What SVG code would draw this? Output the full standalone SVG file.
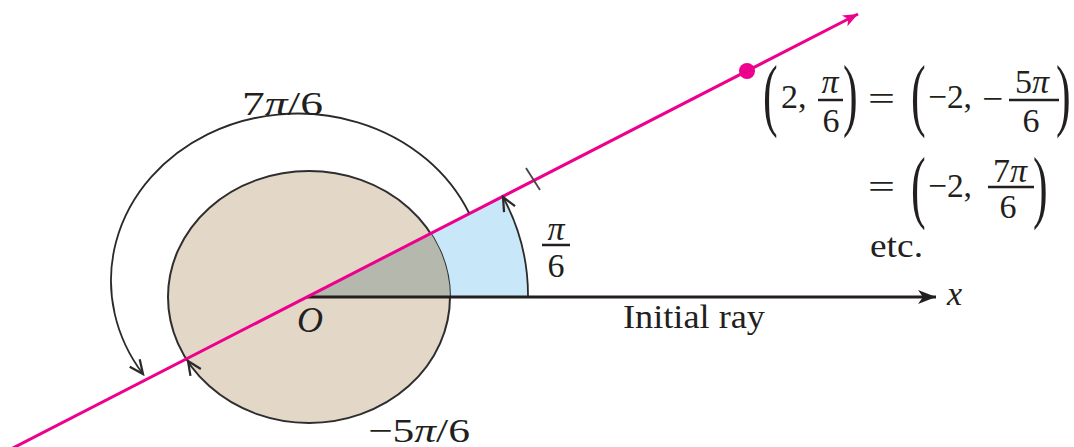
<svg xmlns="http://www.w3.org/2000/svg" width="1074" height="447" viewBox="0 0 1074 447">
<style>
.t{font-family:"Liberation Serif","Times New Roman",serif;font-size:34px;fill:#231f20}
.i{font-style:italic}
.p{font-size:80px}
.thin{fill:none;stroke:#2a2a2a;stroke-width:1.8}
.bar{stroke:#231f20;stroke-width:2.5}
.pink{stroke:#ec008c;stroke-width:3;fill:none}
</style>
<defs>
<marker id="open" markerUnits="userSpaceOnUse" markerWidth="20" markerHeight="20" viewBox="-14 -8 16 16" refX="0" refY="0" orient="auto">
<path d="M-11,-5 L0,0 L-11,5" fill="none" stroke="#2a2a2a" stroke-width="1.8"/>
</marker>
<marker id="dart" markerUnits="userSpaceOnUse" markerWidth="24" markerHeight="20" viewBox="-20 -10 22 20" refX="0" refY="0" orient="auto">
<path d="M-18,-7 L0,0 L-18,7 L-13,0 Z" fill="#231f20"/>
</marker>
<marker id="pinkArrow" markerUnits="userSpaceOnUse" markerWidth="24" markerHeight="20" viewBox="-20 -10 22 20" refX="0" refY="0" orient="auto">
<path d="M-15,-6 L0,0 L-15,6 L-11,0 Z" fill="#ec008c"/>
</marker>
<clipPath id="inner"><ellipse cx="309" cy="297" rx="141" ry="126"/></clipPath>
</defs>

<g id="sector">
<path d="M307,297 L528,297 A221,213 0 0 0 503,196.4 Z" fill="#c8e8f9"/>
</g>
<g id="circle">
<ellipse cx="309" cy="297" rx="141" ry="126" fill="#e3d7c7" stroke="#2e2e2e" stroke-width="2"/>
<path d="M307,297 L528,297 A221,213 0 0 0 503,196.4 Z" fill="#b4b8ad" clip-path="url(#inner)"/>
</g>

<g id="connectors">
<line x1="307" y1="297" x2="936" y2="297" stroke="#231f20" stroke-width="3" marker-end="url(#dart)"/>
<line x1="-10" y1="459.8" x2="858" y2="14" class="pink" marker-end="url(#pinkArrow)"/>
<path d="M528,297 A221,213 0 0 0 503,197" class="thin" marker-end="url(#open)"/>
<path d="M469,213 A187,167 0 1 0 143,374" class="thin" marker-end="url(#open)"/>
<path d="M450,297 A141,126 0 0 1 188,361" fill="none" stroke="none" marker-end="url(#open)"/>
<line x1="526" y1="168" x2="540" y2="190" stroke="#444" stroke-width="1.8"/>
</g>

<g id="point">
<circle cx="747" cy="71" r="8" fill="#ec008c"/>
</g>

<g id="labels">
<text class="t" x="242" y="115" textLength="81" lengthAdjust="spacingAndGlyphs">7<tspan class="i">π</tspan>/6</text>
<text class="t" x="368" y="442" textLength="102" lengthAdjust="spacingAndGlyphs">−5<tspan class="i">π</tspan>/6</text>
<text class="t i" x="297" y="332" style="font-size:36px">O</text>
<text class="t i" x="556" y="240" text-anchor="middle">π</text>
<line class="bar" x1="542" y1="245" x2="570" y2="245"/>
<text class="t" x="556" y="277" text-anchor="middle">6</text>
<text class="t" x="623" y="328" textLength="142" lengthAdjust="spacingAndGlyphs">Initial ray</text>
<text class="t i" x="947" y="305">x</text>
</g>

<g id="formula">
<text class="t p" transform="translate(763,121) scale(0.55,1)">(</text>
<text class="t" x="781" y="108">2,</text>
<text class="t i" x="830" y="93" text-anchor="middle">π</text>
<line class="bar" x1="818" y1="100" x2="843" y2="100"/>
<text class="t" x="831" y="132" text-anchor="middle">6</text>
<text class="t p" transform="translate(843,121) scale(0.55,1)">)</text>
<text class="t" x="868" y="110" textLength="27" lengthAdjust="spacingAndGlyphs">=</text>
<text class="t p" transform="translate(911,121) scale(0.55,1)">(</text>
<text class="t" x="928" y="108" textLength="44" lengthAdjust="spacingAndGlyphs">−2,</text>
<text class="t" x="982" y="110" textLength="21" lengthAdjust="spacingAndGlyphs">−</text>
<text class="t" x="1032" y="93" text-anchor="middle">5<tspan class="i">π</tspan></text>
<line class="bar" x1="1009" y1="100" x2="1059" y2="100"/>
<text class="t" x="1031" y="132" text-anchor="middle">6</text>
<text class="t p" transform="translate(1056,121) scale(0.55,1)">)</text>

<text class="t" x="868" y="198" textLength="27" lengthAdjust="spacingAndGlyphs">=</text>
<text class="t p" transform="translate(911,213) scale(0.55,1)">(</text>
<text class="t" x="928" y="197" textLength="44" lengthAdjust="spacingAndGlyphs">−2,</text>
<text class="t" x="1010" y="182" text-anchor="middle">7<tspan class="i">π</tspan></text>
<line class="bar" x1="988" y1="187" x2="1034" y2="187"/>
<text class="t" x="1008" y="218" text-anchor="middle">6</text>
<text class="t p" transform="translate(1033,213) scale(0.55,1)">)</text>
<text class="t" x="870" y="257" textLength="53" lengthAdjust="spacingAndGlyphs">etc.</text>
</g>
</svg>
